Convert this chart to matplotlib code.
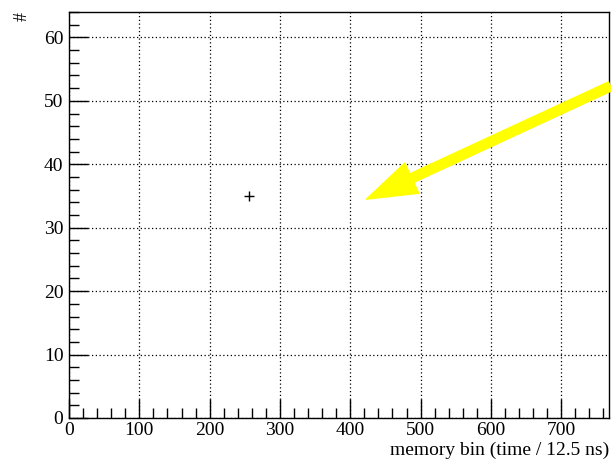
import numpy as np
import matplotlib
matplotlib.use("Agg")
import matplotlib.pyplot as plt
from matplotlib.ticker import MultipleLocator
from matplotlib.patches import FancyArrowPatch

plt.rcParams['font.family'] = ['Liberation Serif', 'DejaVu Serif']

# data
bin_x = [256]
counts = [35]
x_range = (0, 768)
y_range = (0, 64)
arrow_tail = (770, 52.3)
arrow_head = (423, 34.5)

fig = plt.figure(figsize=(6.11, 4.62), dpi=100)
ax = fig.add_axes([69 / 611, 1 - 418 / 462, (609 - 69) / 611, (418 - 12) / 462])

ax.plot(bin_x, counts, marker='+', linestyle='none', color='black', markersize=7, markeredgewidth=1)

ax.set_xlim(*x_range)
ax.set_ylim(*y_range)
ax.xaxis.set_major_locator(MultipleLocator(100))
ax.xaxis.set_minor_locator(MultipleLocator(20))
ax.yaxis.set_major_locator(MultipleLocator(10))
ax.yaxis.set_minor_locator(MultipleLocator(2))

ax.tick_params(which='both', direction='in', top=False, right=False, labelsize=14, width=1, color='black')
ax.tick_params(which='major', length=14, pad=3)
ax.tick_params(which='minor', length=7)
ax.tick_params(axis='y', pad=4)

ax.grid(True, which='major', linestyle=(0, (1, 2)), color='black', linewidth=0.9)
for s in ax.spines.values():
    s.set_linewidth(1)

ax.set_xlabel('memory bin (time / 12.5 ns)', fontsize=14, loc='right', labelpad=2)
ax.text(-0.087, 1.0, '#', transform=ax.transAxes, rotation=90, fontsize=13, ha='center', va='top')

arr = FancyArrowPatch(arrow_tail, arrow_head, transform=ax.transData,
                      arrowstyle='simple,head_length=36,head_width=24,tail_width=6.8',
                      color='#ffff00', shrinkA=0, shrinkB=0, clip_on=False, zorder=5)
ax.add_patch(arr)

fig.savefig('out.png', dpi=100)
